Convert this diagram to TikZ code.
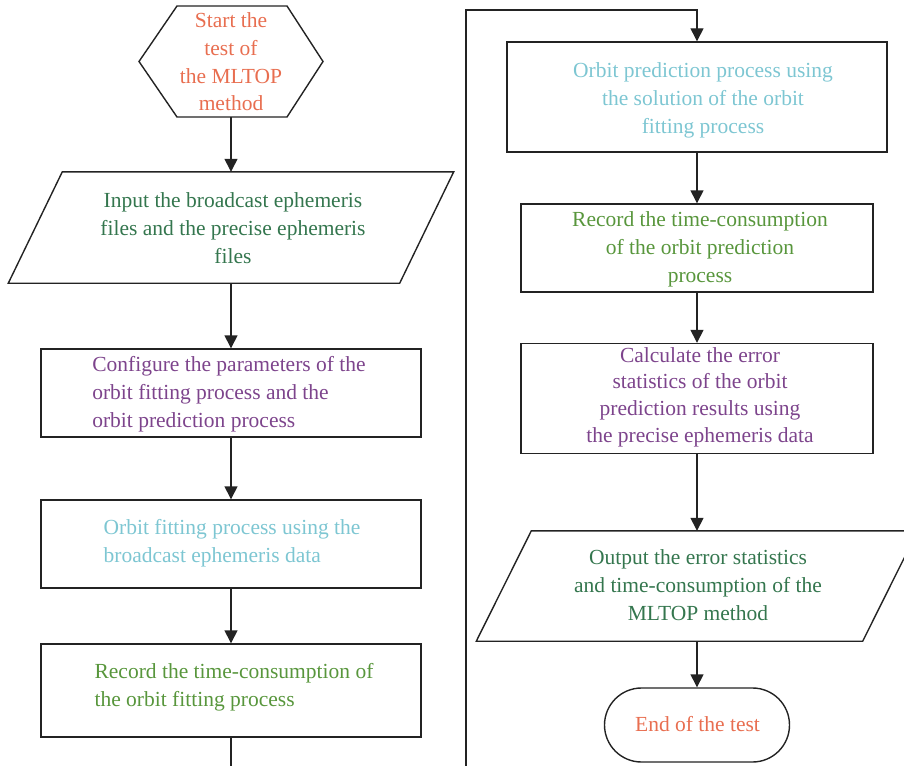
\documentclass[tikz,border=0pt]{standalone}
\usepackage{fontspec}
\setmainfont{Liberation Serif}
\usetikzlibrary{arrows.meta,shapes.geometric}
\definecolor{corange}{RGB}{232,110,80}
\definecolor{cdgreen}{RGB}{52,118,78}
\definecolor{cpurple}{RGB}{125,68,140}
\definecolor{ccyan}{RGB}{125,198,210}
\definecolor{cgreen}{RGB}{88,150,60}
\definecolor{cline}{RGB}{35,35,35}
\tikzset{
  txt/.style={font=\fontsize{21.5}{28}\selectfont, inner sep=0pt},
  procbox/.style={draw=cline, line width=1.4pt, rectangle, inner sep=0pt},
  ghost/.style={rectangle, inner sep=0pt},
  edge/.style={draw=cline, line width=1.4pt},
  flow/.style={edge, -{Triangle[width=13pt,length=13pt]}},
}
\begin{document}
\begin{tikzpicture}[x=1pt,y=-1pt]
\useasboundingbox (0,0) rectangle (904,765);

% start hexagon
\node[ghost, minimum width=184, minimum height=111] (start) at (231,61.5) {};
\draw[edge] (177,6) -- (287,6) -- (323,61.5) -- (287,117) -- (177,117) -- (139,61.5) -- cycle;
\node[txt, text=corange, align=center, font=\fontsize{21.5}{27.7}\selectfont] (starttxt) at (231,62) {Start the\\test of\\the MLTOP\\method};

% input parallelogram
\node[ghost, minimum width=391, minimum height=111] (inp) at (231,227.5) {};
\draw[edge] ([xshift=27pt]inp.north west) -- ([xshift=27pt]inp.north east) -- ([xshift=-27pt]inp.south east) -- ([xshift=-27pt]inp.south west) -- cycle;
\node[txt, text=cdgreen, align=center] (inptxt) at (233,228) {Input the broadcast ephemeris\\files and the precise ephemeris\\files};

% configure
\node[procbox, minimum width=380, minimum height=88] (conf) at (231,393) {};
\node[txt, text=cpurple, align=left] (conftxt) at (229,394) {Configure the parameters of the\\orbit fitting process and the\\orbit prediction process};

% orbit fitting
\node[procbox, minimum width=380, minimum height=88] (fit) at (231,544) {};
\node[txt, text=ccyan, align=left] (fittxt) at (232,543.5) {Orbit fitting process using the\\broadcast ephemeris data};

% record fitting
\node[procbox, minimum width=380, minimum height=93] (recf) at (231,690.5) {};
\node[txt, text=cgreen, align=left] (recftxt) at (234,687) {Record the time-consumption of\\the orbit fitting process};

% right column
\node[procbox, minimum width=380, minimum height=110] (pred) at (697,97) {};
\node[txt, text=ccyan, align=center] (predtxt) at (703,100) {Orbit prediction process using\\the solution of the orbit\\fitting process};

\node[procbox, minimum width=352, minimum height=88] (recp) at (697,248) {};
\node[txt, text=cgreen, align=center] (recptxt) at (700,249) {Record the time-consumption\\of the orbit prediction\\process};

\node[procbox, minimum width=352, minimum height=110] (calc) at (697,398.5) {};
\node[txt, text=cpurple, align=center, font=\fontsize{21.5}{26.7}\selectfont] (calctxt) at (700,397) {Calculate the error\\statistics of the orbit\\prediction results using\\the precise ephemeris data};

\node[ghost, minimum width=386, minimum height=110] (outp) at (697,586) {};
\draw[edge] ([xshift=27.5pt]outp.north west) -- ([xshift=27.5pt]outp.north east) -- ([xshift=-27.5pt]outp.south east) -- ([xshift=-27.5pt]outp.south west) -- cycle;
\node[txt, text=cdgreen, align=center] (outptxt) at (698,585) {Output the error statistics\\and time-consumption of the\\MLTOP method};

\node[procbox, rounded corners=37pt, minimum width=185, minimum height=74] (fin) at (697,725) {};
\node[txt, text=corange] (fintxt) at (697.5,724) {End of the test};

% connectors
\draw[flow] (start.south) -- (inp.north);
\draw[flow] (inp.south) -- (conf.north);
\draw[flow] (conf.south) -- (fit.north);
\draw[flow] (fit.south) -- (recf.north);
\coordinate (lbot) at (231,766);
\draw[edge] (recf.south) -- (lbot);
\coordinate (rbot) at (466,766);
\coordinate (rtop) at (466,10);
\draw[flow] (rbot) -- (rtop) -| (pred.north);
\draw[flow] (pred.south) -- (recp.north);
\draw[flow] (recp.south) -- (calc.north);
\draw[flow] (calc.south) -- (outp.north);
\draw[flow] (outp.south) -- (fin.north);
\end{tikzpicture}
\end{document}
